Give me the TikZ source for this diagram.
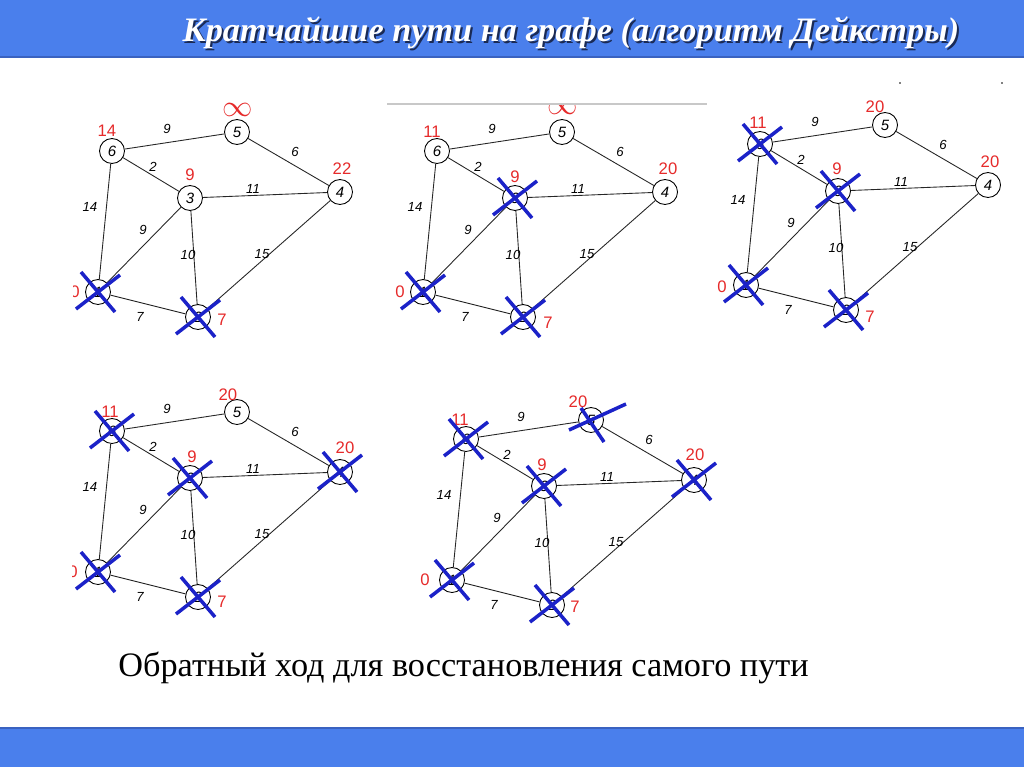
\documentclass[tikz,border=0pt]{standalone}
\usepackage{fontspec}
\setmainfont{Liberation Serif}
\setsansfont{Liberation Sans}
\usetikzlibrary{positioning}
\definecolor{bandblue}{HTML}{4A7FEC}
\definecolor{bandedge}{HTML}{3A62C0}
\definecolor{shadowink}{HTML}{1A2A55}
\definecolor{crossblue}{HTML}{1B22C8}
\definecolor{distred}{HTML}{E62A2A}
\definecolor{rulegray}{HTML}{C8C8C8}

% the same graph in every panel, base coordinates of panel one
\newcommand{\basegraph}[1]{%
  \node[vert] (#11) at (98,292) {1};
  \node[vert] (#12) at (198,317) {2};
  \node[vert] (#13) at (190,198) {3};
  \node[vert] (#14) at (340,192) {4};
  \node[vert] (#15) at (237,132) {5};
  \node[vert] (#16) at (112,151) {6};
  \draw[link] (#16) -- (#15);
  \draw[link] (#16) -- (#13);
  \draw[link] (#15) -- (#14);
  \draw[link] (#13) -- (#14);
  \draw[link] (#16) -- (#11);
  \draw[link] (#11) -- (#13);
  \draw[link] (#13) -- (#12);
  \draw[link] (#12) -- (#14);
  \draw[link] (#11) -- (#12);
  \node[weight] (#1w65) at (167,129) {9};
  \node[weight] (#1w63) at (153,167) {2};
  \node[weight] (#1w54) at (295,152) {6};
  \node[weight] (#1w34) at (253,189) {11};
  \node[weight] (#1w61) at (90,207) {14};
  \node[weight] (#1w13) at (143,230) {9};
  \node[weight] (#1w32) at (188,255) {10};
  \node[weight] (#1w24) at (262,254) {15};
  \node[weight] (#1w12) at (140,317) {7};
}
\newcommand{\crossout}[1]{%
  \draw[strike] (#1) ++(-22,17) -- ++(44,-34);
  \draw[strike] (#1) ++(-17,-20) -- ++(34,40);
}

\begin{document}
\begin{tikzpicture}[x=0.02cm,y=-0.02cm,
  vert/.style={circle,draw=black,line width=0.5pt,minimum size=5mm,
    inner sep=0pt,font=\sffamily\itshape\fontsize{8.5}{9}\selectfont},
  link/.style={draw=black!85,line width=0.5pt},
  weight/.style={inner sep=0pt,font=\sffamily\itshape\fontsize{7.5}{8}\selectfont},
  dist/.style={inner sep=0pt,text=distred,font=\sffamily\fontsize{9.5}{10}\selectfont},
  inf/.style={inner sep=0pt,text=distred,font=\fontsize{16}{18}\selectfont},
  strike/.style={draw=crossblue,line width=2pt},
  headline/.style={anchor=base,inner sep=0pt,
    font=\fontsize{19.5}{23}\selectfont\bfseries\itshape}
]
  \useasboundingbox (0,0) rectangle (1024,767);
  \fill[white] (0,0) rectangle (1024,767);

  % bands
  \fill[bandblue] (0,0) rectangle (1024,57);
  \draw[bandedge,line width=1pt] (0,57) -- (1024,57);
  \fill[bandblue] (0,728) rectangle (1024,767);
  \draw[bandedge,line width=1pt] (0,728) -- (1024,728);
  \node[headline,text=shadowink] (headshadow) at (573,44)
    {Кратчайшие пути на графе (алгоритм Дейкстры)};
  \node[headline,text=white] (head) at (571,42)
    {Кратчайшие пути на графе (алгоритм Дейкстры)};

  % panel 1
  \begin{scope}
    \clip (73,90) rectangle (380,345);
    \basegraph{a}
    \node[dist] (a6d) at (107,131) {14};
    \node[inf] (a5d) at (238,110) {$\infty$};
    \node[dist] (a3d) at (190,175) {9};
    \node[dist] (a4d) at (342,169) {22};
    \node[dist] (a1d) at (75,292) {0};
    \node[dist] (a2d) at (222,320) {7};
    \crossout{a1}
    \crossout{a2}
  \end{scope}

  % panel 2
  \draw[rulegray,line width=1.5pt] (387,104) -- (707,104);
  \begin{scope}[shift={(325,0)}]
    \clip (55,106) rectangle (382,345);
    \basegraph{b}
    \node[dist] (b6d) at (107,132) {11};
    \node[inf] (b5d) at (238,108) {$\infty$};
    \node[dist] (b3d) at (190,177) {9};
    \node[dist] (b4d) at (343,169) {20};
    \node[dist] (b1d) at (75,292) {0};
    \node[dist] (b2d) at (223,323) {7};
    \crossout{b1}
    \crossout{b2}
    \crossout{b3}
  \end{scope}

  % panel 3
  \fill (900,83) circle (0.8);
  \fill (1002,83) circle (0.8);
  \begin{scope}[shift={(648,-7)}]
    \basegraph{c}
    \node[dist] (c6d) at (110,130) {11};
    \node[dist] (c5d) at (227,114) {20};
    \node[dist] (c3d) at (189,176) {9};
    \node[dist] (c4d) at (342,169) {20};
    \node[dist] (c1d) at (74,294) {0};
    \node[dist] (c2d) at (222,324) {7};
    \crossout{c1}
    \crossout{c2}
    \crossout{c3}
    \crossout{c6}
  \end{scope}

  % panel 4
  \begin{scope}[shift={(0,280)}]
    \clip (72,90) rectangle (380,345);
    \basegraph{d}
    \node[dist] (d6d) at (110,132) {11};
    \node[dist] (d5d) at (228,115) {20};
    \node[dist] (d3d) at (192,177) {9};
    \node[dist] (d4d) at (345,168) {20};
    \node[dist] (d1d) at (73,292) {0};
    \node[dist] (d2d) at (222,322) {7};
    \crossout{d1}
    \crossout{d2}
    \crossout{d3}
    \crossout{d6}
    \crossout{d4}
  \end{scope}

  % panel 5
  \begin{scope}[shift={(354,288)}]
    \basegraph{e}
    \node[dist] (e6d) at (106,132) {11};
    \node[dist] (e5d) at (224,114) {20};
    \node[dist] (e3d) at (188,177) {9};
    \node[dist] (e4d) at (341,167) {20};
    \node[dist] (e1d) at (71,292) {0};
    \node[dist] (e2d) at (221,319) {7};
    \crossout{e1}
    \crossout{e2}
    \crossout{e3}
    \crossout{e6}
    \crossout{e4}
    \draw[strike] (e5) ++(-22,10) -- ++(57,-26);
    \draw[strike] (e5) ++(-10,-12) -- ++(23,34);
  \end{scope}

  \node[anchor=base west,inner sep=0pt,font=\fontsize{19.5}{23}\selectfont]
    (note) at (118,676) {Обратный ход для восстановления самого пути};
\end{tikzpicture}
\end{document}
